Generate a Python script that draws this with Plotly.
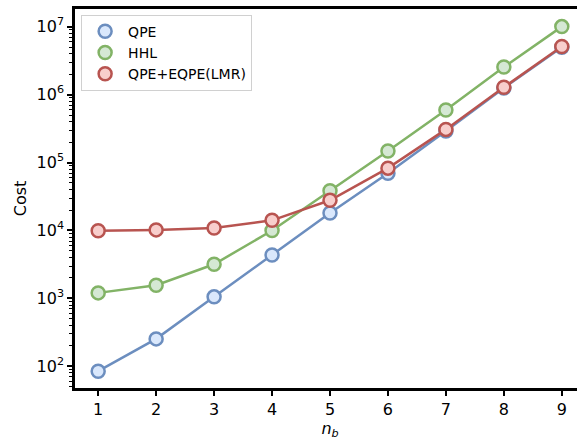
import plotly.graph_objects as go

n_b = [1, 2, 3, 4, 5, 6, 7, 8, 9]
qpe = [85, 254, 1055, 4350, 18100, 69600, 290000, 1.25e6, 4.95e6]
hhl = [1207, 1566, 3180, 10000, 38500, 148000, 591000, 2.54e6, 1.0e7]
qpe_eqpe = [9900, 10200, 10900, 14100, 27800, 82600, 307000, 1.28e6, 5.09e6]

series = [
    ("QPE", qpe, "#6C8EBF", "#DAE8FC"),
    ("HHL", hhl, "#82B366", "#D5E8D4"),
    ("QPE+EQPE(LMR)", qpe_eqpe, "#B85450", "#F8CECC"),
]

fig = go.Figure()
for name, vals, lc, fc in series:
    fig.add_trace(go.Scatter(
        x=n_b, y=vals, mode="lines+markers", name=name, showlegend=False,
        line=dict(color=lc, width=2.5),
        marker=dict(size=13, color=fc, line=dict(color=lc, width=2.5)),
    ))
for name, vals, lc, fc in series:
    fig.add_trace(go.Scatter(
        x=[None], y=[None], mode="markers", name=name,
        marker=dict(size=13, color=fc, line=dict(color=lc, width=2.5)),
    ))

decades = [1e1, 1e2, 1e3, 1e4, 1e5, 1e6, 1e7]
tickvals = [1e2, 1e3, 1e4, 1e5, 1e6, 1e7]
ticktext = ["10<sup>2</sup>", "10<sup>3</sup>", "10<sup>4</sup>", "10<sup>5</sup>", "10<sup>6</sup>", "10<sup>7</sup>"]
minor_vals = [d * k for d in decades for k in range(2, 10)]

fig.update_layout(
    width=585, height=440,
    margin=dict(l=75, r=0, t=9, b=52, autoexpand=False),
    paper_bgcolor="white", plot_bgcolor="white",
    font=dict(family="DejaVu Sans", size=16, color="black"),
    showlegend=True,
    legend=dict(
        x=0.012, y=0.985, xanchor="left", yanchor="top",
        bgcolor="white", bordercolor="#D0D0D0", borderwidth=1,
        font=dict(size=14), itemwidth=36,
    ),
    xaxis=dict(
        range=[0.6, 9.4], tickvals=n_b, showgrid=False, zeroline=False,
        showline=True, linecolor="black", linewidth=2.5, mirror=True,
        ticks="outside", ticklen=5, tickwidth=1.5, tickcolor="black",
        automargin=False,
        title=dict(text="<i>n</i><sub><i>b</i></sub>", font=dict(size=16), standoff=2),
    ),
    yaxis=dict(
        type="log", range=[1.682, 7.259], tickvals=tickvals, ticktext=ticktext,
        showgrid=False, zeroline=False, automargin=False,
        showline=True, linecolor="black", linewidth=2.5, mirror=True,
        ticks="outside", ticklen=5, tickwidth=1.5, tickcolor="black",
        minor=dict(tickvals=minor_vals, ticks="outside", ticklen=3, tickwidth=1,
                   tickcolor="black", showgrid=False),
        title=dict(text="Cost", font=dict(size=16), standoff=6),
    ),
)

fig.write_html(
    "out.html", config={"displayModeBar": False},
    post_script=("document.body.style.margin='0';"
                 "document.documentElement.style.overflow='hidden';"
                 "document.body.style.overflow='hidden';"),
)
